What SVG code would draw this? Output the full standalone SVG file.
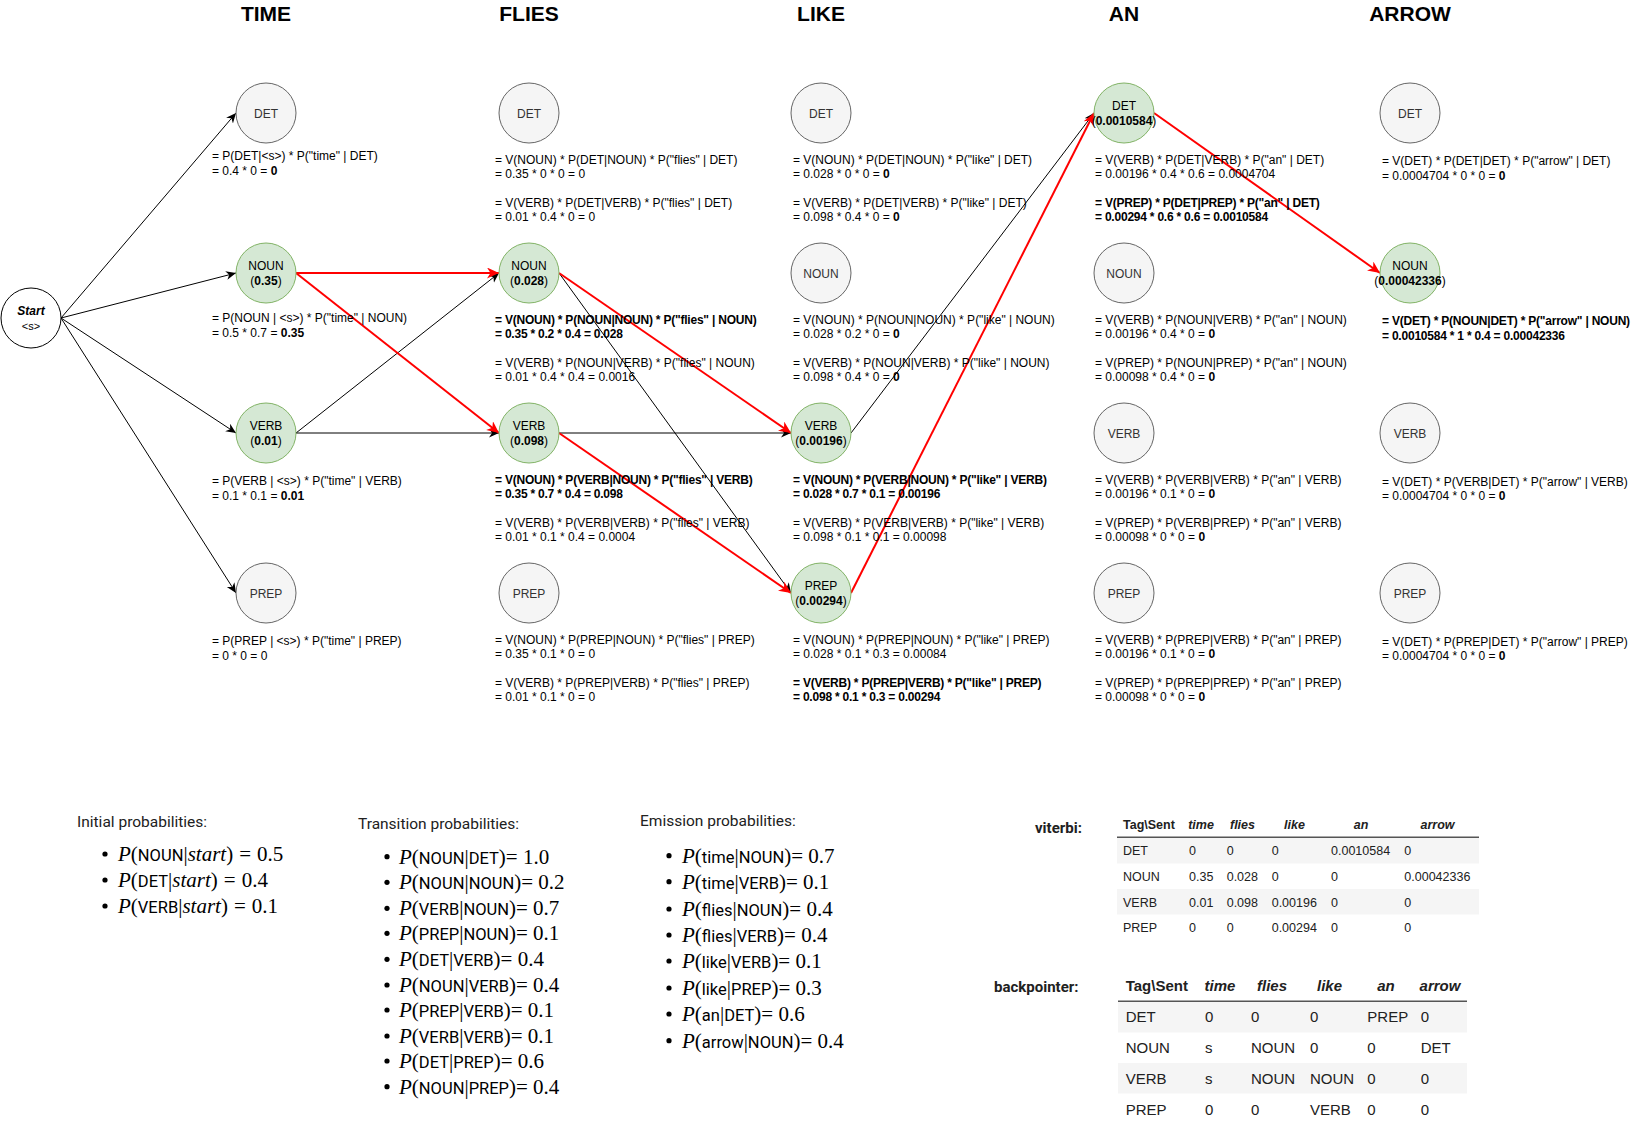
<svg xmlns="http://www.w3.org/2000/svg" width="1641" height="1129" viewBox="0 0 1641 1129">
<style>
text{font-family:"Liberation Sans",Arial,sans-serif;}
.title{font-size:21px;font-weight:bold;text-anchor:middle;fill:#000;}
.gray circle{fill:#f5f5f5;stroke:#666666;stroke-width:1;}
.green circle{fill:#d5e8d4;stroke:#82b366;stroke-width:1;}
.gray text{fill:#333333;}
.nt{font-size:12px;text-anchor:middle;}
.lb{font-size:12px;fill:#000;}
.b{font-weight:bold;}
text.lb.b{letter-spacing:-0.22px;}
.e{fill:none;stroke:#000;stroke-width:1;marker-end:url(#ab);}
.r{fill:none;stroke:#ff0000;stroke-width:2;marker-end:url(#ar);}
.hd{font-family:Roboto,"Liberation Sans",sans-serif;font-size:15.5px;fill:#212121;}
.mt{font-family:"Liberation Serif","Times New Roman",serif;font-size:21px;fill:#000;}
.mi{font-style:italic;}
.ms{font-family:Roboto,"Liberation Sans",sans-serif;font-size:16.5px;}
.bul{fill:#000;}
.tb{font-family:Roboto,"Liberation Sans",sans-serif;font-size:12.5px;fill:#212121;}
.tb2{font-family:Roboto,"Liberation Sans",sans-serif;font-size:15px;fill:#212121;}
.th{font-weight:bold;}
.thi{font-weight:bold;font-style:italic;text-anchor:middle;}
.stripe{fill:#f5f5f5;}
.hl{stroke:#555555;stroke-width:1.5;}
</style>
<defs>
<marker id="ab" markerUnits="userSpaceOnUse" markerWidth="12" markerHeight="10" refX="10" refY="4.5" orient="auto"><path d="M0,0 L10,4.5 L0,9 L3,4.5 Z" fill="#000"/></marker>
<marker id="ar" markerUnits="userSpaceOnUse" markerWidth="14" markerHeight="13" refX="12" refY="5.5" orient="auto"><path d="M0,0 L12,5.5 L0,11 L3.5,5.5 Z" fill="#ff0000"/></marker>
</defs>
<rect width="1641" height="1129" fill="#ffffff"/>

<g id="titles">
<text class="title" x="266" y="21">TIME</text>
<text class="title" x="529" y="21">FLIES</text>
<text class="title" x="821" y="21">LIKE</text>
<text class="title" x="1124" y="21">AN</text>
<text class="title" x="1410" y="21">ARROW</text>
</g>

<g id="connectors">
<line class="e" x1="61" y1="318" x2="236" y2="113"/>
<line class="e" x1="61" y1="318" x2="236" y2="273"/>
<line class="e" x1="61" y1="318" x2="236" y2="433"/>
<line class="e" x1="61" y1="318" x2="236" y2="593"/>
<line class="e" x1="296" y1="433" x2="499" y2="273"/>
<line class="e" x1="296" y1="433" x2="499" y2="433"/>
<line class="e" x1="559" y1="273" x2="791" y2="593"/>
<line class="e" x1="559" y1="433" x2="791" y2="433"/>
<line class="e" x1="851" y1="433" x2="1094" y2="113"/>
<line class="r" x1="296" y1="273" x2="499" y2="273"/>
<line class="r" x1="296" y1="273" x2="499" y2="433"/>
<line class="r" x1="559" y1="273" x2="791" y2="433"/>
<line class="r" x1="559" y1="433" x2="791" y2="593"/>
<line class="r" x1="851" y1="593" x2="1094" y2="113"/>
<line class="r" x1="1154" y1="113" x2="1380" y2="273"/>
</g>

<g id="start" class="gray">
<circle cx="31" cy="318" r="30" style="fill:#ffffff;stroke:#000000"/>
<text class="nt" x="31" y="315" style="fill:#000;font-weight:bold;font-style:italic">Start</text>
<text class="nt" x="31" y="330" style="fill:#000;font-size:11px">&lt;s&gt;</text>
</g>

<!-- TIME -->
<g id="time-det" class="gray"><circle cx="266" cy="113" r="30"/><text class="nt" x="266" y="117.5">DET</text></g>
<g id="time-noun" class="green"><circle cx="266" cy="273" r="30"/><text class="nt" x="266" y="270">NOUN</text><text class="nt" x="266" y="285">(<tspan class="b">0.35</tspan>)</text></g>
<g id="time-verb" class="green"><circle cx="266" cy="433" r="30"/><text class="nt" x="266" y="430">VERB</text><text class="nt" x="266" y="445">(<tspan class="b">0.01</tspan>)</text></g>
<g id="time-prep" class="gray"><circle cx="266" cy="593" r="30"/><text class="nt" x="266" y="597.5">PREP</text></g>

<g id="time-labels">
<text class="lb" x="212" y="160">= P(DET|&lt;s&gt;) * P("time" | DET)</text>
<text class="lb" x="212" y="175">= 0.4 * 0 = <tspan class="b">0</tspan></text>
<text class="lb" x="212" y="322">= P(NOUN | &lt;s&gt;) * P("time" | NOUN)</text>
<text class="lb" x="212" y="337">= 0.5 * 0.7 = <tspan class="b">0.35</tspan></text>
<text class="lb" x="212" y="485">= P(VERB | &lt;s&gt;) * P("time" | VERB)</text>
<text class="lb" x="212" y="500">= 0.1 * 0.1 = <tspan class="b">0.01</tspan></text>
<text class="lb" x="212" y="645">= P(PREP | &lt;s&gt;) * P("time" | PREP)</text>
<text class="lb" x="212" y="660">= 0 * 0 = 0</text>
</g>

<!-- FLIES -->
<g id="flies-det" class="gray"><circle cx="529" cy="113" r="30"/><text class="nt" x="529" y="117.5">DET</text></g>
<g id="flies-noun" class="green"><circle cx="529" cy="273" r="30"/><text class="nt" x="529" y="270">NOUN</text><text class="nt" x="529" y="285">(<tspan class="b">0.028</tspan>)</text></g>
<g id="flies-verb" class="green"><circle cx="529" cy="433" r="30"/><text class="nt" x="529" y="430">VERB</text><text class="nt" x="529" y="445">(<tspan class="b">0.098</tspan>)</text></g>
<g id="flies-prep" class="gray"><circle cx="529" cy="593" r="30"/><text class="nt" x="529" y="597.5">PREP</text></g>

<g id="flies-labels">
<text class="lb" x="495" y="164">= V(NOUN) * P(DET|NOUN) * P("flies" | DET)</text>
<text class="lb" x="495" y="178">= 0.35 * 0 * 0 = 0</text>
<text class="lb" x="495" y="207">= V(VERB) * P(DET|VERB) * P("flies" | DET)</text>
<text class="lb" x="495" y="221">= 0.01 * 0.4 * 0 = 0</text>
<text class="lb b" x="495" y="324">= V(NOUN) * P(NOUN|NOUN) * P("flies" | NOUN)</text>
<text class="lb b" x="495" y="338">= 0.35 * 0.2 * 0.4 = 0.028</text>
<text class="lb" x="495" y="367">= V(VERB) * P(NOUN|VERB) * P("flies" | NOUN)</text>
<text class="lb" x="495" y="381">= 0.01 * 0.4 * 0.4 = 0.0016</text>
<text class="lb b" x="495" y="483.5">= V(NOUN) * P(VERB|NOUN) * P("flies" | VERB)</text>
<text class="lb b" x="495" y="498">= 0.35 * 0.7 * 0.4 = 0.098</text>
<text class="lb" x="495" y="527">= V(VERB) * P(VERB|VERB) * P("flies" | VERB)</text>
<text class="lb" x="495" y="541">= 0.01 * 0.1 * 0.4 = 0.0004</text>
<text class="lb" x="495" y="643.5">= V(NOUN) * P(PREP|NOUN) * P("flies" | PREP)</text>
<text class="lb" x="495" y="658">= 0.35 * 0.1 * 0 = 0</text>
<text class="lb" x="495" y="687">= V(VERB) * P(PREP|VERB) * P("flies" | PREP)</text>
<text class="lb" x="495" y="701">= 0.01 * 0.1 * 0 = 0</text>
</g>

<!-- LIKE -->
<g id="like-det" class="gray"><circle cx="821" cy="113" r="30"/><text class="nt" x="821" y="117.5">DET</text></g>
<g id="like-noun" class="gray"><circle cx="821" cy="273" r="30"/><text class="nt" x="821" y="277.5">NOUN</text></g>
<g id="like-verb" class="green"><circle cx="821" cy="433" r="30"/><text class="nt" x="821" y="430">VERB</text><text class="nt" x="821" y="445">(<tspan class="b">0.00196</tspan>)</text></g>
<g id="like-prep" class="green"><circle cx="821" cy="593" r="30"/><text class="nt" x="821" y="590">PREP</text><text class="nt" x="821" y="605">(<tspan class="b">0.00294</tspan>)</text></g>

<g id="like-labels">
<text class="lb" x="793" y="164">= V(NOUN) * P(DET|NOUN) * P("like" | DET)</text>
<text class="lb" x="793" y="178">= 0.028 * 0 * 0 = <tspan class="b">0</tspan></text>
<text class="lb" x="793" y="207">= V(VERB) * P(DET|VERB) * P("like" | DET)</text>
<text class="lb" x="793" y="221">= 0.098 * 0.4 * 0 = <tspan class="b">0</tspan></text>
<text class="lb" x="793" y="324">= V(NOUN) * P(NOUN|NOUN) * P("like" | NOUN)</text>
<text class="lb" x="793" y="338">= 0.028 * 0.2 * 0 = <tspan class="b">0</tspan></text>
<text class="lb" x="793" y="367">= V(VERB) * P(NOUN|VERB) * P("like" | NOUN)</text>
<text class="lb" x="793" y="381">= 0.098 * 0.4 * 0 = <tspan class="b">0</tspan></text>
<text class="lb b" x="793" y="483.5">= V(NOUN) * P(VERB|NOUN) * P("like" | VERB)</text>
<text class="lb b" x="793" y="498">= 0.028 * 0.7 * 0.1 = 0.00196</text>
<text class="lb" x="793" y="527">= V(VERB) * P(VERB|VERB) * P("like" | VERB)</text>
<text class="lb" x="793" y="541">= 0.098 * 0.1 * 0.1 = 0.00098</text>
<text class="lb" x="793" y="643.5">= V(NOUN) * P(PREP|NOUN) * P("like" | PREP)</text>
<text class="lb" x="793" y="658">= 0.028 * 0.1 * 0.3 = 0.00084</text>
<text class="lb b" x="793" y="687">= V(VERB) * P(PREP|VERB) * P("like" | PREP)</text>
<text class="lb b" x="793" y="701">= 0.098 * 0.1 * 0.3 = 0.00294</text>
</g>

<!-- AN -->
<g id="an-det" class="green"><circle cx="1124" cy="113" r="30"/><text class="nt" x="1124" y="110">DET</text><text class="nt" x="1124" y="125">(<tspan class="b">0.0010584</tspan>)</text></g>
<g id="an-noun" class="gray"><circle cx="1124" cy="273" r="30"/><text class="nt" x="1124" y="277.5">NOUN</text></g>
<g id="an-verb" class="gray"><circle cx="1124" cy="433" r="30"/><text class="nt" x="1124" y="437.5">VERB</text></g>
<g id="an-prep" class="gray"><circle cx="1124" cy="593" r="30"/><text class="nt" x="1124" y="597.5">PREP</text></g>

<g id="an-labels">
<text class="lb" x="1095" y="164">= V(VERB) * P(DET|VERB) * P("an" | DET)</text>
<text class="lb" x="1095" y="178">= 0.00196 * 0.4 * 0.6 = 0.0004704</text>
<text class="lb b" x="1095" y="207">= V(PREP) * P(DET|PREP) * P("an" | DET)</text>
<text class="lb b" x="1095" y="221">= 0.00294 * 0.6 * 0.6 = 0.0010584</text>
<text class="lb" x="1095" y="324">= V(VERB) * P(NOUN|VERB) * P("an" | NOUN)</text>
<text class="lb" x="1095" y="338">= 0.00196 * 0.4 * 0 = <tspan class="b">0</tspan></text>
<text class="lb" x="1095" y="367">= V(PREP) * P(NOUN|PREP) * P("an" | NOUN)</text>
<text class="lb" x="1095" y="381">= 0.00098 * 0.4 * 0 = <tspan class="b">0</tspan></text>
<text class="lb" x="1095" y="483.5">= V(VERB) * P(VERB|VERB) * P("an" | VERB)</text>
<text class="lb" x="1095" y="498">= 0.00196 * 0.1 * 0 = <tspan class="b">0</tspan></text>
<text class="lb" x="1095" y="527">= V(PREP) * P(VERB|PREP) * P("an" | VERB)</text>
<text class="lb" x="1095" y="541">= 0.00098 * 0 * 0 = <tspan class="b">0</tspan></text>
<text class="lb" x="1095" y="643.5">= V(VERB) * P(PREP|VERB) * P("an" | PREP)</text>
<text class="lb" x="1095" y="658">= 0.00196 * 0.1 * 0 = <tspan class="b">0</tspan></text>
<text class="lb" x="1095" y="687">= V(PREP) * P(PREP|PREP) * P("an" | PREP)</text>
<text class="lb" x="1095" y="701">= 0.00098 * 0 * 0 = <tspan class="b">0</tspan></text>
</g>

<!-- ARROW -->
<g id="arrow-det" class="gray"><circle cx="1410" cy="113" r="30"/><text class="nt" x="1410" y="117.5">DET</text></g>
<g id="arrow-noun" class="green"><circle cx="1410" cy="273" r="30"/><text class="nt" x="1410" y="270">NOUN</text><text class="nt" x="1410" y="285">(<tspan class="b">0.00042336</tspan>)</text></g>
<g id="arrow-verb" class="gray"><circle cx="1410" cy="433" r="30"/><text class="nt" x="1410" y="437.5">VERB</text></g>
<g id="arrow-prep" class="gray"><circle cx="1410" cy="593" r="30"/><text class="nt" x="1410" y="597.5">PREP</text></g>

<g id="arrow-labels">
<text class="lb" x="1382" y="165">= V(DET) * P(DET|DET) * P("arrow" | DET)</text>
<text class="lb" x="1382" y="179.5">= 0.0004704 * 0 * 0 = <tspan class="b">0</tspan></text>
<text class="lb b" x="1382" y="325">= V(DET) * P(NOUN|DET) * P("arrow" | NOUN)</text>
<text class="lb b" x="1382" y="339.5">= 0.0010584 * 1 * 0.4 = 0.00042336</text>
<text class="lb" x="1382" y="485.5">= V(DET) * P(VERB|DET) * P("arrow" | VERB)</text>
<text class="lb" x="1382" y="500">= 0.0004704 * 0 * 0 = <tspan class="b">0</tspan></text>
<text class="lb" x="1382" y="645.5">= V(DET) * P(PREP|DET) * P("arrow" | PREP)</text>
<text class="lb" x="1382" y="660">= 0.0004704 * 0 * 0 = <tspan class="b">0</tspan></text>
</g>

<!-- Probabilities -->
<g id="initial">
<text class="hd" x="77" y="827">Initial probabilities:</text>
<circle class="bul" cx="105" cy="854" r="2.6"/>
<circle class="bul" cx="105" cy="880" r="2.6"/>
<circle class="bul" cx="105" cy="906" r="2.6"/>
<text class="mt" x="118" y="861"><tspan class="mi">P</tspan>(<tspan class="ms">NOUN</tspan>|<tspan class="mi">start</tspan>)<tspan dx="6">=</tspan><tspan dx="6">0.5</tspan></text>
<text class="mt" x="118" y="887"><tspan class="mi">P</tspan>(<tspan class="ms">DET</tspan>|<tspan class="mi">start</tspan>)<tspan dx="6">=</tspan><tspan dx="6">0.4</tspan></text>
<text class="mt" x="118" y="913"><tspan class="mi">P</tspan>(<tspan class="ms">VERB</tspan>|<tspan class="mi">start</tspan>)<tspan dx="6">=</tspan><tspan dx="6">0.1</tspan></text>
</g>

<g id="transition">
<text class="hd" x="358" y="829">Transition probabilities:</text>
<circle class="bul" cx="387" cy="856.7" r="2.6"/>
<circle class="bul" cx="387" cy="882.3" r="2.6"/>
<circle class="bul" cx="387" cy="908.3" r="2.6"/>
<circle class="bul" cx="387" cy="933.3" r="2.6"/>
<circle class="bul" cx="387" cy="959.3" r="2.6"/>
<circle class="bul" cx="387" cy="985" r="2.6"/>
<circle class="bul" cx="387" cy="1010" r="2.6"/>
<circle class="bul" cx="387" cy="1036" r="2.6"/>
<circle class="bul" cx="387" cy="1061" r="2.6"/>
<circle class="bul" cx="387" cy="1086.7" r="2.6"/>
<text class="mt" x="399" y="863.5"><tspan class="mi">P</tspan>(<tspan class="ms">NOUN</tspan>|<tspan class="ms">DET</tspan>)= 1.0</text>
<text class="mt" x="399" y="889.3"><tspan class="mi">P</tspan>(<tspan class="ms">NOUN</tspan>|<tspan class="ms">NOUN</tspan>)= 0.2</text>
<text class="mt" x="399" y="915.3"><tspan class="mi">P</tspan>(<tspan class="ms">VERB</tspan>|<tspan class="ms">NOUN</tspan>)= 0.7</text>
<text class="mt" x="399" y="940.3"><tspan class="mi">P</tspan>(<tspan class="ms">PREP</tspan>|<tspan class="ms">NOUN</tspan>)= 0.1</text>
<text class="mt" x="399" y="966.3"><tspan class="mi">P</tspan>(<tspan class="ms">DET</tspan>|<tspan class="ms">VERB</tspan>)= 0.4</text>
<text class="mt" x="399" y="992"><tspan class="mi">P</tspan>(<tspan class="ms">NOUN</tspan>|<tspan class="ms">VERB</tspan>)= 0.4</text>
<text class="mt" x="399" y="1017"><tspan class="mi">P</tspan>(<tspan class="ms">PREP</tspan>|<tspan class="ms">VERB</tspan>)= 0.1</text>
<text class="mt" x="399" y="1043"><tspan class="mi">P</tspan>(<tspan class="ms">VERB</tspan>|<tspan class="ms">VERB</tspan>)= 0.1</text>
<text class="mt" x="399" y="1068"><tspan class="mi">P</tspan>(<tspan class="ms">DET</tspan>|<tspan class="ms">PREP</tspan>)= 0.6</text>
<text class="mt" x="399" y="1093.7"><tspan class="mi">P</tspan>(<tspan class="ms">NOUN</tspan>|<tspan class="ms">PREP</tspan>)= 0.4</text>
</g>

<g id="emission">
<text class="hd" x="640" y="826">Emission probabilities:</text>
<circle class="bul" cx="669" cy="855.7" r="2.6"/>
<circle class="bul" cx="669" cy="881.7" r="2.6"/>
<circle class="bul" cx="669" cy="909" r="2.6"/>
<circle class="bul" cx="669" cy="935" r="2.6"/>
<circle class="bul" cx="669" cy="961" r="2.6"/>
<circle class="bul" cx="669" cy="988" r="2.6"/>
<circle class="bul" cx="669" cy="1014" r="2.6"/>
<circle class="bul" cx="669" cy="1040.7" r="2.6"/>
<text class="mt" x="682" y="862.7"><tspan class="mi">P</tspan>(<tspan class="ms">time</tspan>|<tspan class="ms">NOUN</tspan>)= 0.7</text>
<text class="mt" x="682" y="888.7"><tspan class="mi">P</tspan>(<tspan class="ms">time</tspan>|<tspan class="ms">VERB</tspan>)= 0.1</text>
<text class="mt" x="682" y="916"><tspan class="mi">P</tspan>(<tspan class="ms">flies</tspan>|<tspan class="ms">NOUN</tspan>)= 0.4</text>
<text class="mt" x="682" y="942"><tspan class="mi">P</tspan>(<tspan class="ms">flies</tspan>|<tspan class="ms">VERB</tspan>)= 0.4</text>
<text class="mt" x="682" y="968"><tspan class="mi">P</tspan>(<tspan class="ms">like</tspan>|<tspan class="ms">VERB</tspan>)= 0.1</text>
<text class="mt" x="682" y="995"><tspan class="mi">P</tspan>(<tspan class="ms">like</tspan>|<tspan class="ms">PREP</tspan>)= 0.3</text>
<text class="mt" x="682" y="1021"><tspan class="mi">P</tspan>(<tspan class="ms">an</tspan>|<tspan class="ms">DET</tspan>)= 0.6</text>
<text class="mt" x="682" y="1047.7"><tspan class="mi">P</tspan>(<tspan class="ms">arrow</tspan>|<tspan class="ms">NOUN</tspan>)= 0.4</text>
</g>

<!-- viterbi table -->
<g id="viterbi">
<text class="tb2 th" x="1035" y="833">viterbi:</text>
<rect class="stripe" x="1117" y="838" width="362" height="25.5"/>
<rect class="stripe" x="1117" y="889" width="362" height="25.5"/>
<line class="hl" x1="1117" y1="837.3" x2="1479" y2="837.3"/>
<g class="tb">
<text class="th" x="1123" y="829">Tag\Sent</text>
<text class="thi" x="1201" y="829">time</text>
<text class="thi" x="1242.5" y="829">flies</text>
<text class="thi" x="1294.5" y="829">like</text>
<text class="thi" x="1361" y="829">an</text>
<text class="thi" x="1437.5" y="829">arrow</text>
<text x="1123" y="855">DET</text><text x="1189" y="855">0</text><text x="1226.7" y="855">0</text><text x="1271.7" y="855">0</text><text x="1331" y="855">0.0010584</text><text x="1404.3" y="855">0</text>
<text x="1123" y="881">NOUN</text><text x="1189" y="881">0.35</text><text x="1226.7" y="881">0.028</text><text x="1271.7" y="881">0</text><text x="1331" y="881">0</text><text x="1404.3" y="881">0.00042336</text>
<text x="1123" y="906.5">VERB</text><text x="1189" y="906.5">0.01</text><text x="1226.7" y="906.5">0.098</text><text x="1271.7" y="906.5">0.00196</text><text x="1331" y="906.5">0</text><text x="1404.3" y="906.5">0</text>
<text x="1123" y="932">PREP</text><text x="1189" y="932">0</text><text x="1226.7" y="932">0</text><text x="1271.7" y="932">0.00294</text><text x="1331" y="932">0</text><text x="1404.3" y="932">0</text>
</g>
</g>

<!-- backpointer table -->
<g id="backpointer">
<text class="tb2 th" x="994" y="992">backpointer:</text>
<rect class="stripe" x="1118" y="1002" width="349" height="30.5"/>
<rect class="stripe" x="1118" y="1063" width="349" height="30.5"/>
<line class="hl" x1="1118" y1="1001.3" x2="1467" y2="1001.3"/>
<g class="tb2">
<text class="th" x="1125.7" y="990.5">Tag\Sent</text>
<text class="thi" x="1220" y="990.5">time</text>
<text class="thi" x="1272" y="990.5">flies</text>
<text class="thi" x="1329.5" y="990.5">like</text>
<text class="thi" x="1386" y="990.5">an</text>
<text class="thi" x="1440" y="990.5">arrow</text>
<text x="1125.7" y="1022">DET</text><text x="1205" y="1022">0</text><text x="1251" y="1022">0</text><text x="1310" y="1022">0</text><text x="1367.3" y="1022">PREP</text><text x="1420.7" y="1022">0</text>
<text x="1125.7" y="1053">NOUN</text><text x="1205" y="1053">s</text><text x="1251" y="1053">NOUN</text><text x="1310" y="1053">0</text><text x="1367.3" y="1053">0</text><text x="1420.7" y="1053">DET</text>
<text x="1125.7" y="1084">VERB</text><text x="1205" y="1084">s</text><text x="1251" y="1084">NOUN</text><text x="1310" y="1084">NOUN</text><text x="1367.3" y="1084">0</text><text x="1420.7" y="1084">0</text>
<text x="1125.7" y="1115">PREP</text><text x="1205" y="1115">0</text><text x="1251" y="1115">0</text><text x="1310" y="1115">VERB</text><text x="1367.3" y="1115">0</text><text x="1420.7" y="1115">0</text>
</g>
</g>
</svg>
